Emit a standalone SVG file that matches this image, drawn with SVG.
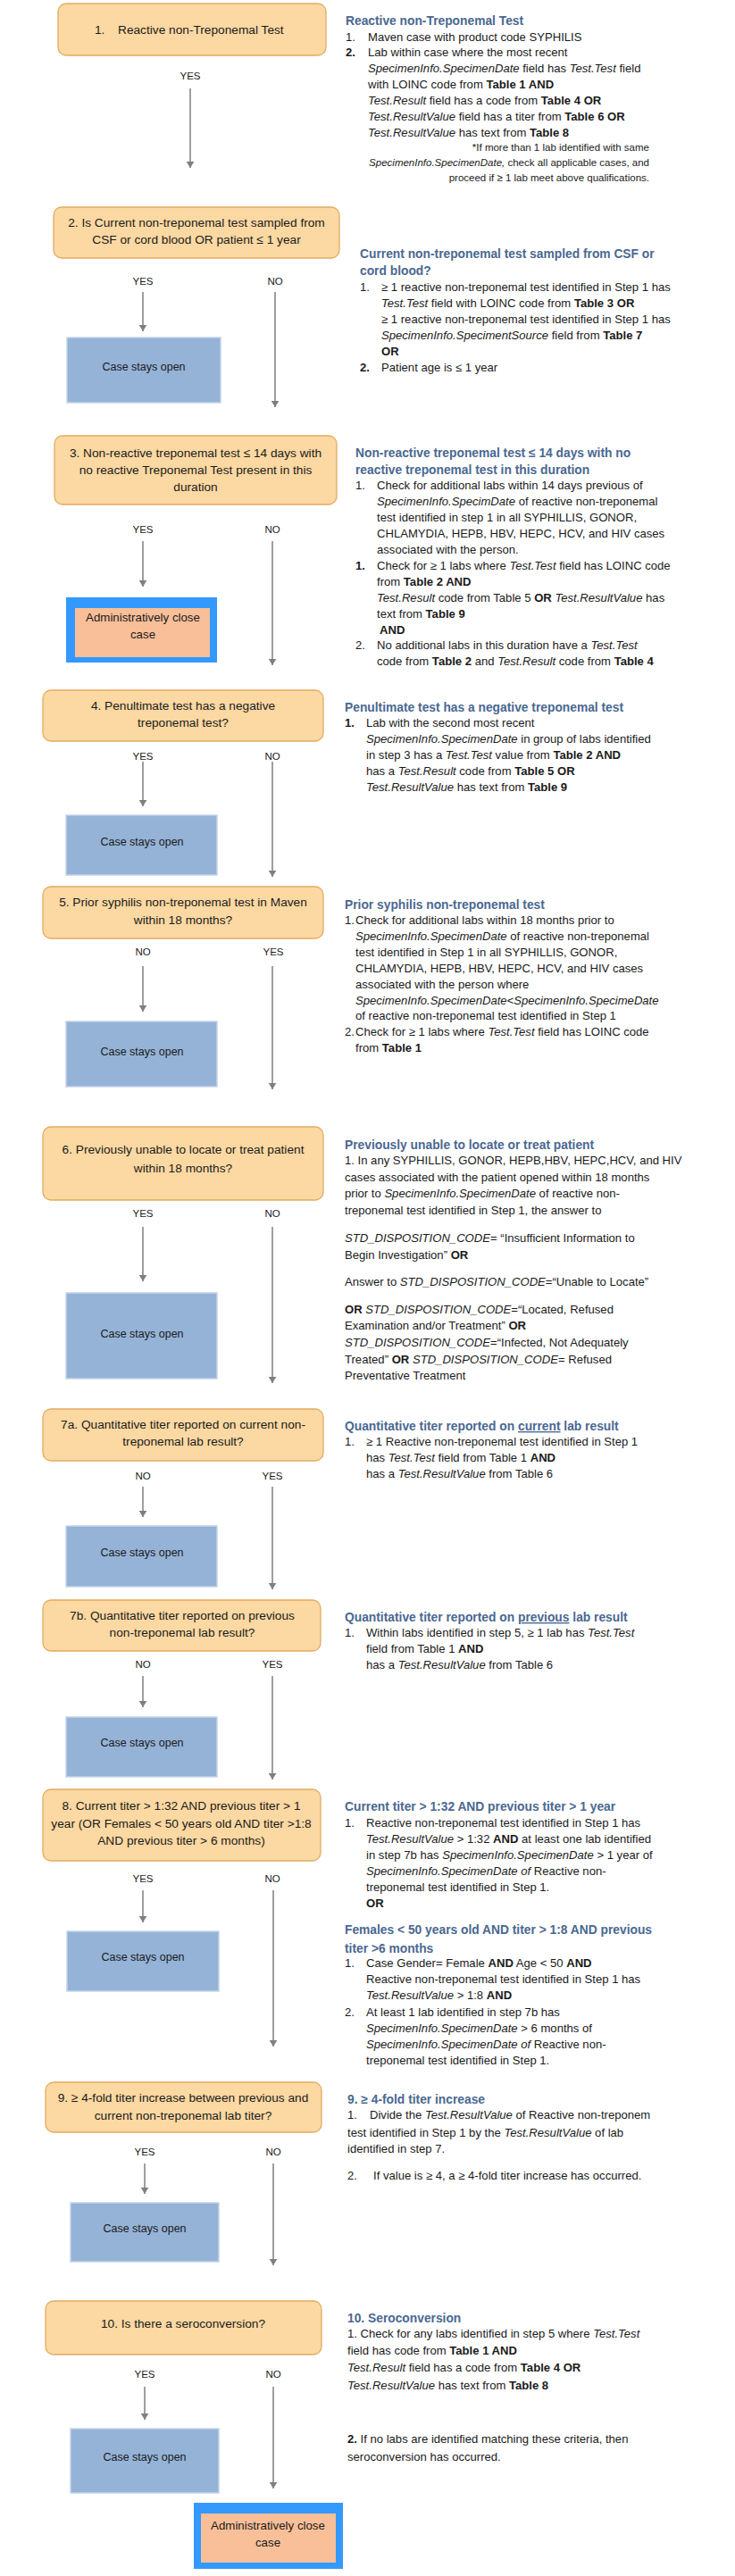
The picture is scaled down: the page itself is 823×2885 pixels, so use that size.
<svg xmlns="http://www.w3.org/2000/svg" width="823" height="2885" viewBox="0 0 823 2885">
<style>
text{font-family:'Liberation Sans',Arial,sans-serif;fill:#1a1a1a}
.box{fill:#FCD8A2;stroke:#E2AB62;stroke-width:1.3}
.open{fill:#95B3D7;stroke:#C3D4EA;stroke-width:1.5}
.aout{fill:#3399FF}
.ain{fill:#F8BF98}
.lbl{font-size:13.7px;text-anchor:middle}
.cs{font-size:12.5px;text-anchor:middle}
.ad{font-size:13.3px;text-anchor:middle}
.yn{font-size:11.5px;text-anchor:middle}
.t{font-size:13.1px}
.s{font-size:11.5px;text-anchor:end}
.h{font-size:13.8px;font-weight:bold;fill:#4A6891}
.i{font-style:italic}
.b{font-weight:bold}
.u{text-decoration:underline}
#connectors line{stroke:#7F7F7F;stroke-width:1.5;marker-end:url(#arr)}
</style>
<defs>
<marker id="arr" viewBox="0 0 8 10" markerUnits="userSpaceOnUse" markerWidth="7" markerHeight="9" refX="8" refY="5" orient="auto">
<path d="M0,0 L8,5 L0,10 z" fill="#7F7F7F"/>
</marker>
</defs>
<rect width="823" height="2885" fill="#ffffff"/>

<g id="connectors">
<line x1="213" y1="99" x2="213" y2="188"/>
<line x1="160" y1="327" x2="160" y2="371"/>
<line x1="308" y1="327" x2="308" y2="456"/>
<line x1="160" y1="606" x2="160" y2="657"/>
<line x1="305" y1="606" x2="305" y2="745"/>
<line x1="160" y1="853" x2="160" y2="903"/>
<line x1="305" y1="853" x2="305" y2="982"/>
<line x1="160" y1="1082" x2="160" y2="1133"/>
<line x1="305" y1="1082" x2="305" y2="1220"/>
<line x1="160" y1="1374" x2="160" y2="1435"/>
<line x1="305" y1="1374" x2="305" y2="1549"/>
<line x1="160" y1="1665" x2="160" y2="1699"/>
<line x1="305" y1="1665" x2="305" y2="1780"/>
<line x1="160" y1="1877" x2="160" y2="1912"/>
<line x1="305" y1="1877" x2="305" y2="1993"/>
<line x1="160" y1="2117" x2="160" y2="2153"/>
<line x1="306" y1="2117" x2="306" y2="2292"/>
<line x1="162" y1="2423" x2="162" y2="2457"/>
<line x1="306" y1="2423" x2="306" y2="2537"/>
<line x1="162" y1="2673" x2="162" y2="2710"/>
<line x1="306" y1="2673" x2="306" y2="2787"/>
</g>

<g id="edge-labels">
<text class="yn" x="213" y="89">YES</text>
<text class="yn" x="160" y="319">YES</text>
<text class="yn" x="308" y="319">NO</text>
<text class="yn" x="160" y="597">YES</text>
<text class="yn" x="305" y="597">NO</text>
<text class="yn" x="160" y="851">YES</text>
<text class="yn" x="305" y="851">NO</text>
<text class="yn" x="160" y="1070">NO</text>
<text class="yn" x="306" y="1070">YES</text>
<text class="yn" x="160" y="1363">YES</text>
<text class="yn" x="305" y="1363">NO</text>
<text class="yn" x="160" y="1657">NO</text>
<text class="yn" x="305" y="1657">YES</text>
<text class="yn" x="160" y="1868">NO</text>
<text class="yn" x="305" y="1868">YES</text>
<text class="yn" x="160" y="2108">YES</text>
<text class="yn" x="305" y="2108">NO</text>
<text class="yn" x="162" y="2414">YES</text>
<text class="yn" x="306" y="2414">NO</text>
<text class="yn" x="162" y="2663">YES</text>
<text class="yn" x="306" y="2663">NO</text>
</g>

<g id="n1">
<rect class="box" x="65" y="4" width="300" height="58" rx="9"/>
<text style="font-size:13.7px" y="38"><tspan x="106">1.</tspan><tspan x="132">Reactive non-Treponemal Test</tspan></text>
</g>
<g id="n2">
<rect class="box" x="60" y="232" width="320" height="57" rx="9"/>
<text class="lbl" x="220" y="254">2. Is Current non-treponemal test sampled from</text>
<text class="lbl" x="220" y="273">CSF or cord blood OR patient ≤ 1 year</text>
</g>
<g id="o2">
<rect class="open" x="75" y="378" width="172" height="73"/>
<text class="cs" x="161" y="415">Case stays open</text>
</g>
<g id="n3">
<rect class="box" x="61" y="488" width="316" height="77" rx="9"/>
<text class="lbl" x="219" y="512">3. Non-reactive treponemal test ≤ 14 days with</text>
<text class="lbl" x="219" y="531">no reactive Treponemal Test present in this</text>
<text class="lbl" x="219" y="550">duration</text>
</g>
<g id="c3">
<rect class="aout" x="74" y="669" width="169" height="73"/>
<rect class="ain" x="84" y="681" width="151" height="55"/>
<text class="ad" x="160" y="696">Administratively close</text>
<text class="ad" x="160" y="715">case</text>
</g>
<g id="n4">
<rect class="box" x="48" y="773" width="314" height="57" rx="9"/>
<text class="lbl" x="205" y="795">4. Penultimate test has a negative</text>
<text class="lbl" x="205" y="814">treponemal test?</text>
</g>
<g id="o4">
<rect class="open" x="74" y="913" width="169" height="67"/>
<text class="cs" x="159" y="947">Case stays open</text>
</g>
<g id="n5">
<rect class="box" x="48" y="993" width="314" height="58" rx="9"/>
<text class="lbl" x="205" y="1015">5. Prior syphilis non-treponemal test in Maven</text>
<text class="lbl" x="205" y="1035">within 18 months?</text>
</g>
<g id="o5">
<rect class="open" x="74" y="1144" width="169" height="73"/>
<text class="cs" x="159" y="1182">Case stays open</text>
</g>
<g id="n6">
<rect class="box" x="48" y="1262" width="314" height="82" rx="9"/>
<text class="lbl" x="205" y="1292">6. Previously unable to locate or treat patient</text>
<text class="lbl" x="205" y="1313">within 18 months?</text>
</g>
<g id="o6">
<rect class="open" x="74" y="1448" width="169" height="96"/>
<text class="cs" x="159" y="1498">Case stays open</text>
</g>
<g id="n7a">
<rect class="box" x="48" y="1578" width="314" height="58" rx="9"/>
<text class="lbl" x="205" y="1600">7a. Quantitative titer reported on current non-</text>
<text class="lbl" x="205" y="1619">treponemal lab result?</text>
</g>
<g id="o7a">
<rect class="open" x="74" y="1709" width="169" height="68"/>
<text class="cs" x="159" y="1743">Case stays open</text>
</g>
<g id="n7b">
<rect class="box" x="48" y="1792" width="311" height="57" rx="9"/>
<text class="lbl" x="204" y="1814">7b. Quantitative titer reported on previous</text>
<text class="lbl" x="204" y="1833">non-treponemal lab result?</text>
</g>
<g id="o7b">
<rect class="open" x="74" y="1923" width="169" height="67"/>
<text class="cs" x="159" y="1956">Case stays open</text>
</g>
<g id="n8">
<rect class="box" x="48" y="2004" width="311" height="80" rx="9"/>
<text class="lbl" x="203" y="2027">8. Current titer &gt; 1:32 AND previous titer &gt; 1</text>
<text class="lbl" x="203" y="2047">year (OR Females &lt; 50 years old AND titer &gt;1:8</text>
<text class="lbl" x="203" y="2066">AND previous titer &gt; 6 months)</text>
</g>
<g id="o8">
<rect class="open" x="75" y="2163" width="170" height="67"/>
<text class="cs" x="160" y="2196">Case stays open</text>
</g>
<g id="n9">
<rect class="box" x="51" y="2332" width="309" height="56" rx="9"/>
<text class="lbl" x="205" y="2354">9. ≥ 4-fold titer increase between previous and</text>
<text class="lbl" x="205" y="2374">current non-treponemal lab titer?</text>
</g>
<g id="o9">
<rect class="open" x="79" y="2467" width="166" height="66"/>
<text class="cs" x="162" y="2500">Case stays open</text>
</g>
<g id="n10">
<rect class="box" x="51" y="2577" width="309" height="60" rx="9"/>
<text class="lbl" x="205" y="2607">10. Is there a seroconversion?</text>
</g>
<g id="o10">
<rect class="open" x="79" y="2720" width="166" height="72"/>
<text class="cs" x="162" y="2756">Case stays open</text>
</g>
<g id="c10">
<rect class="aout" x="217" y="2803" width="167" height="74"/>
<rect class="ain" x="225" y="2815" width="151" height="55"/>
<text class="ad" x="300" y="2833">Administratively close</text>
<text class="ad" x="300" y="2852">case</text>
</g>

<g id="desc1">
<text class="h" x="387" y="28">Reactive non-Treponemal Test</text>
<text class="t" y="46"><tspan x="387">1.</tspan><tspan x="412">Maven case with product code SYPHILIS</tspan></text>
<text class="t" y="63"><tspan x="387" class="b">2.</tspan><tspan x="412">Lab within case where the most recent</tspan></text>
<text class="t" x="412" y="81"><tspan class="i">SpecimenInfo.SpecimenDate</tspan> field has <tspan class="i">Test.Test</tspan> field</text>
<text class="t" x="412" y="99">with LOINC code from <tspan class="b">Table 1 AND</tspan></text>
<text class="t" x="412" y="117"><tspan class="i">Test.Result</tspan> field has a code from <tspan class="b">Table 4 OR</tspan></text>
<text class="t" x="412" y="135"><tspan class="i">Test.ResultValue</tspan> field has a titer from <tspan class="b">Table 6 OR</tspan></text>
<text class="t" x="412" y="153"><tspan class="i">Test.ResultValue</tspan> has text from <tspan class="b">Table 8</tspan></text>
<text class="s" x="727" y="169">*If more than 1 lab identified with same</text>
<text class="s" x="727" y="186"><tspan class="i">SpecimenInfo.SpecimenDate,</tspan>  check all applicable cases, and</text>
<text class="s" x="727" y="203">proceed  if ≥ 1 lab meet  above qualifications.</text>
</g>

<g id="desc2">
<text class="h" x="403" y="289">Current non-treponemal test sampled from CSF or</text>
<text class="h" x="403" y="308">cord blood?</text>
<text class="t" y="326"><tspan x="403">1.</tspan><tspan x="427">≥ 1 reactive non-treponemal test identified in Step 1 has</tspan></text>
<text class="t" x="427" y="344"><tspan class="i">Test.Test</tspan> field with LOINC code from <tspan class="b">Table 3 OR</tspan></text>
<text class="t" x="427" y="362">≥ 1 reactive non-treponemal test identified in Step 1 has</text>
<text class="t" x="427" y="380"><tspan class="i">SpecimenInfo.SpecimentSource</tspan> field from <tspan class="b">Table 7</tspan></text>
<text class="t b" x="427" y="398">OR</text>
<text class="t" y="416"><tspan x="403" class="b">2.</tspan><tspan x="427">Patient age is ≤ 1 year</tspan></text>
</g>

<g id="desc3">
<text class="h" x="398" y="512">Non-reactive treponemal test ≤ 14 days with no</text>
<text class="h" x="398" y="531">reactive treponemal test in this duration</text>
<text class="t" y="548"><tspan x="398">1.</tspan><tspan x="422">Check for additional labs within 14 days previous of</tspan></text>
<text class="t" x="422" y="566"><tspan class="i">SpecimenInfo.SpecimDate</tspan> of reactive non-treponemal</text>
<text class="t" x="422" y="584">test identified in step 1 in all SYPHILLIS, GONOR,</text>
<text class="t" x="422" y="602">CHLAMYDIA, HEPB, HBV, HEPC, HCV, and HIV cases</text>
<text class="t" x="422" y="620">associated with the person.</text>
<text class="t" y="638"><tspan x="398" class="b">1.</tspan><tspan x="422">Check for ≥ 1 labs where <tspan class="i">Test.Test</tspan> field has LOINC code</tspan></text>
<text class="t" x="422" y="656">from <tspan class="b">Table 2 AND</tspan></text>
<text class="t" x="422" y="674"><tspan class="i">Test.Result</tspan> code from Table 5 <tspan class="b">OR</tspan> <tspan class="i">Test.ResultValue</tspan> has</text>
<text class="t" x="422" y="692">text from <tspan class="b">Table 9</tspan></text>
<text class="t b" x="425" y="710">AND</text>
<text class="t" y="727"><tspan x="398">2.</tspan><tspan x="422">No additional labs in this duration have a <tspan class="i">Test.Test</tspan></tspan></text>
<text class="t" x="422" y="745">code from <tspan class="b">Table 2</tspan> and <tspan class="i">Test.Result</tspan> code from <tspan class="b">Table 4</tspan></text>
</g>

<g id="desc4">
<text class="h" x="386" y="797">Penultimate test has a negative treponemal test</text>
<text class="t" y="814"><tspan x="386" class="b">1.</tspan><tspan x="410">Lab with the second most recent</tspan></text>
<text class="t" x="410" y="832"><tspan class="i">SpecimenInfo.SpecimenDate</tspan> in group of labs identified</text>
<text class="t" x="410" y="850">in step 3 has a <tspan class="i">Test.Test</tspan> value from <tspan class="b">Table 2 AND</tspan></text>
<text class="t" x="410" y="868">has a <tspan class="i">Test.Result</tspan> code from <tspan class="b">Table 5 OR</tspan></text>
<text class="t" x="410" y="886"><tspan class="i">Test.ResultValue</tspan> has text from <tspan class="b">Table 9</tspan></text>
</g>

<g id="desc5">
<text class="h" x="386" y="1018">Prior syphilis non-treponemal test</text>
<text class="t" y="1035"><tspan x="386">1.</tspan><tspan x="398">Check for additional labs within 18 months prior to</tspan></text>
<text class="t" x="398" y="1053"><tspan class="i">SpecimenInfo.SpecimenDate</tspan> of reactive non-treponemal</text>
<text class="t" x="398" y="1071">test identified in Step 1 in all SYPHILLIS, GONOR,</text>
<text class="t" x="398" y="1089">CHLAMYDIA, HEPB, HBV, HEPC, HCV, and HIV cases</text>
<text class="t" x="398" y="1107">associated with the person where</text>
<text class="t i" x="398" y="1125">SpecimenInfo.SpecimenDate&lt;SpecimenInfo.SpecimeDate</text>
<text class="t" x="398" y="1142">of reactive non-treponemal test identified in Step 1</text>
<text class="t" y="1160"><tspan x="386">2.</tspan><tspan x="398">Check for ≥ 1 labs where <tspan class="i">Test.Test</tspan> field has LOINC code</tspan></text>
<text class="t" x="398" y="1178">from <tspan class="b">Table 1</tspan></text>
</g>

<g id="desc6">
<text class="h" x="386" y="1287">Previously unable to locate or treat patient</text>
<text class="t" x="386" y="1304">1. In any SYPHILLIS, GONOR, HEPB,HBV, HEPC,HCV, and HIV</text>
<text class="t" x="386" y="1323">cases associated with the patient opened within 18 months</text>
<text class="t" x="386" y="1341">prior to <tspan class="i">SpecimenInfo.SpecimenDate</tspan> of reactive non-</text>
<text class="t" x="386" y="1360">treponemal test identified in Step 1, the answer to</text>
<text class="t" x="386" y="1391"><tspan class="i">STD_DISPOSITION_CODE</tspan>= “Insufficient Information to</text>
<text class="t" x="386" y="1410">Begin Investigation” <tspan class="b">OR</tspan></text>
<text class="t" x="386" y="1440">Answer to <tspan class="i">STD_DISPOSITION_CODE</tspan>=“Unable to Locate”</text>
<text class="t" x="386" y="1471"><tspan class="b">OR</tspan> <tspan class="i">STD_DISPOSITION_CODE</tspan>=“Located, Refused</text>
<text class="t" x="386" y="1489">Examination and/or Treatment” <tspan class="b">OR</tspan></text>
<text class="t" x="386" y="1508"><tspan class="i">STD_DISPOSITION_CODE</tspan>=“Infected, Not Adequately</text>
<text class="t" x="386" y="1527">Treated” <tspan class="b">OR</tspan> <tspan class="i">STD_DISPOSITION_CODE</tspan>=  Refused</text>
<text class="t" x="386" y="1545">Preventative Treatment</text>
</g>

<g id="desc7a">
<text class="h" x="386" y="1602">Quantitative titer reported on <tspan class="u">current</tspan> lab result</text>
<text class="t" y="1619"><tspan x="386">1.</tspan><tspan x="410">≥ 1 Reactive non-treponemal test identified in Step 1</tspan></text>
<text class="t" x="410" y="1637">has <tspan class="i">Test.Test</tspan> field from Table 1 <tspan class="b">AND</tspan></text>
<text class="t" x="410" y="1655">has a <tspan class="i">Test.ResultValue</tspan> from Table 6</text>
</g>

<g id="desc7b">
<text class="h" x="386" y="1816">Quantitative titer reported on <tspan class="u">previous</tspan> lab result</text>
<text class="t" y="1833"><tspan x="386">1.</tspan><tspan x="410">Within labs identified in step 5, ≥ 1 lab has <tspan class="i">Test.Test</tspan></tspan></text>
<text class="t" x="410" y="1851">field from Table 1 <tspan class="b">AND</tspan></text>
<text class="t" x="410" y="1869">has a <tspan class="i">Test.ResultValue</tspan> from Table 6</text>
</g>

<g id="desc8">
<text class="h" x="386" y="2028">Current titer &gt; 1:32 AND previous titer &gt; 1 year</text>
<text class="t" y="2046"><tspan x="386">1.</tspan><tspan x="410">Reactive non-treponemal test identified in Step 1 has</tspan></text>
<text class="t" x="410" y="2064"><tspan class="i">Test.ResultValue</tspan> &gt; 1:32 <tspan class="b">AND</tspan> at least one lab identified</text>
<text class="t" x="410" y="2082">in step 7b has <tspan class="i">SpecimenInfo.SpecimenDate</tspan>  &gt; 1 year of</text>
<text class="t" x="410" y="2100"><tspan class="i">SpecimenInfo.SpecimenDate of</tspan> Reactive non-</text>
<text class="t" x="410" y="2118">treponemal test identified in Step 1.</text>
<text class="t b" x="410" y="2136">OR</text>
<text class="h" x="386" y="2166">Females &lt; 50 years old AND titer &gt; 1:8 AND previous</text>
<text class="h" x="386" y="2187">titer &gt;6 months</text>
<text class="t" y="2203"><tspan x="386">1.</tspan><tspan x="410">Case Gender= Female <tspan class="b">AND</tspan> Age &lt; 50 <tspan class="b">AND</tspan></tspan></text>
<text class="t" x="410" y="2221">Reactive non-treponemal test identified in Step 1 has</text>
<text class="t" x="410" y="2239"><tspan class="i">Test.ResultValue</tspan> &gt; 1:8 <tspan class="b">AND</tspan></text>
<text class="t" y="2258"><tspan x="386">2.</tspan><tspan x="410">At least 1 lab identified in step 7b has</tspan></text>
<text class="t" x="410" y="2276"><tspan class="i">SpecimenInfo.SpecimenDate</tspan> &gt; 6 months of</text>
<text class="t" x="410" y="2294"><tspan class="i">SpecimenInfo.SpecimenDate of</tspan> Reactive non-</text>
<text class="t" x="410" y="2312">treponemal test identified in Step 1.</text>
</g>

<g id="desc9">
<text class="h" x="389" y="2356">9. ≥ 4-fold titer increase</text>
<text class="t" y="2373"><tspan x="389">1.</tspan><tspan x="414">Divide the <tspan class="i">Test.ResultValue</tspan> of Reactive non-treponem</tspan></text>
<text class="t" x="389" y="2393">test identified in Step 1 by the <tspan class="i">Test.ResultValue</tspan> of lab</text>
<text class="t" x="389" y="2411">identified in step 7.</text>
<text class="t" y="2441"><tspan x="389">2.</tspan><tspan x="418">If value is ≥ 4, a ≥ 4-fold titer increase has occurred.</tspan></text>
</g>

<g id="desc10">
<text class="h" x="389" y="2601">10. Seroconversion</text>
<text class="t" x="389" y="2618">1. Check for any labs identified in step 5 where <tspan class="i">Test.Test</tspan></text>
<text class="t" x="389" y="2637">field has code from <tspan class="b">Table 1 AND</tspan></text>
<text class="t" x="389" y="2656"><tspan class="i">Test.Result</tspan> field has a code from <tspan class="b">Table 4 OR</tspan></text>
<text class="t" x="389" y="2676"><tspan class="i">Test.ResultValue</tspan> has text from <tspan class="b">Table 8</tspan></text>
<text class="t" x="389" y="2736"><tspan class="b">2.</tspan> If no labs are identified matching these criteria, then</text>
<text class="t" x="389" y="2756">seroconversion has occurred.</text>
</g>
</svg>
